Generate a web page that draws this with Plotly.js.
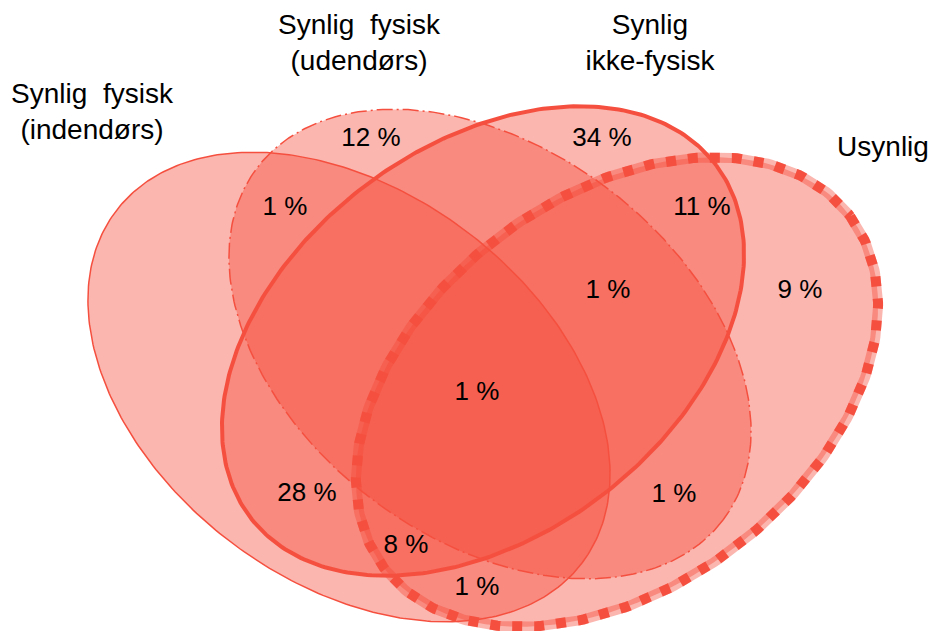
<!DOCTYPE html>
<html><head><meta charset="utf-8">
<script src="https://cdn.plot.ly/plotly-3.0.1.min.js"></script>
<style>html,body{margin:0;padding:0;background:#fff}</style>
</head><body><div id="chart" style="width:931px;height:631px"></div>
<script>
// ---- data ----
const setNames = ['Synlig\u00a0\u00a0fysisk<br>(indendørs)', 'Synlig\u00a0\u00a0fysisk<br>(udendørs)', 'Synlig<br>ikke-fysisk', 'Usynlig'];
const regionValues = [12, 1, 34, 11, 1, 9, 1, 28, 8, 1, 1];
const regionLabels = regionValues.map(v => v + '\u00a0%');

// ---- layout (positions in chart units) ----
const regionX = [371, 285, 602, 702, 608, 800, 477, 307, 406, 477, 674];
const regionY = [139, 208, 139, 208, 291, 291, 393, 494, 546, 588, 495];
const setLabelX = [92, 359, 650, 883];
const setLabelY = [114, 45, 45, 149];
const ellCX = [349, 490, 483, 617];
const ellCY = [387, 344, 341, 392];
const ellAngle = [37, 37, -37, -37];
const semiA = 292, semiB = 195;

const lineColor = '#F5503F';
const fillColor = 'rgba(245,72,56,0.40)';
const lineStyles = [
  {color: lineColor, width: 1.5, dash: 'solid'},
  {color: lineColor, width: 1.5, dash: '16px,4px,2px,4px'},
  {color: lineColor, width: 4, dash: 'solid'},
  {color: lineColor, width: 10, dash: '10px,12px'}
];

function ellipse(cx, cy, a, b, deg) {
  const t = deg * Math.PI / 180, xs = [], ys = [];
  const n = 360;
  for (let i = 0; i <= n; i++) {
    const p = 2 * Math.PI * i / n;
    const ex = a * Math.cos(p), ey = b * Math.sin(p);
    xs.push(cx + ex * Math.cos(t) - ey * Math.sin(t));
    ys.push(cy + ex * Math.sin(t) + ey * Math.cos(t));
  }
  return {xs, ys};
}

const traces = [];
const shapes = ellCX.map((cx, i) => ellipse(cx, ellCY[i], semiA, semiB, ellAngle[i]));
shapes.forEach(s => traces.push({
  type: 'scatter', mode: 'lines', x: s.xs, y: s.ys, fill: 'toself',
  fillcolor: fillColor, line: {width: 0, color: 'rgba(0,0,0,0)'}, hoverinfo: 'skip', showlegend: false
}));
// pale underlay for dotted outline
traces.push({type: 'scatter', mode: 'lines', x: shapes[3].xs, y: shapes[3].ys,
  line: {color: 'rgba(245,72,56,0.40)', width: 10}, hoverinfo: 'skip', showlegend: false});
shapes.forEach((s, i) => traces.push({
  type: 'scatter', mode: 'lines', x: s.xs, y: s.ys, line: lineStyles[i],
  hoverinfo: 'skip', showlegend: false
}));
traces.push({type: 'scatter', mode: 'text', x: regionX, y: regionY, text: regionLabels,
  textposition: 'middle center', textfont: {family: 'Liberation Sans, Arial, sans-serif', size: 26, color: '#000'},
  hoverinfo: 'skip', showlegend: false});
traces.push({type: 'scatter', mode: 'text', x: setLabelX, y: setLabelY, text: setNames,
  textposition: 'middle center', textfont: {family: 'Liberation Sans, Arial, sans-serif', size: 28, color: '#000'},
  hoverinfo: 'skip', showlegend: false});

const layout = {
  width: 931, height: 631, margin: {l: 0, r: 0, t: 0, b: 0},
  paper_bgcolor: '#fff', plot_bgcolor: '#fff',
  xaxis: {range: [0, 931], visible: false, fixedrange: true},
  yaxis: {range: [631, 0], visible: false, fixedrange: true},
  showlegend: false
};
Plotly.newPlot('chart', traces, layout, {displayModeBar: false, staticPlot: true});
</script></body></html>
